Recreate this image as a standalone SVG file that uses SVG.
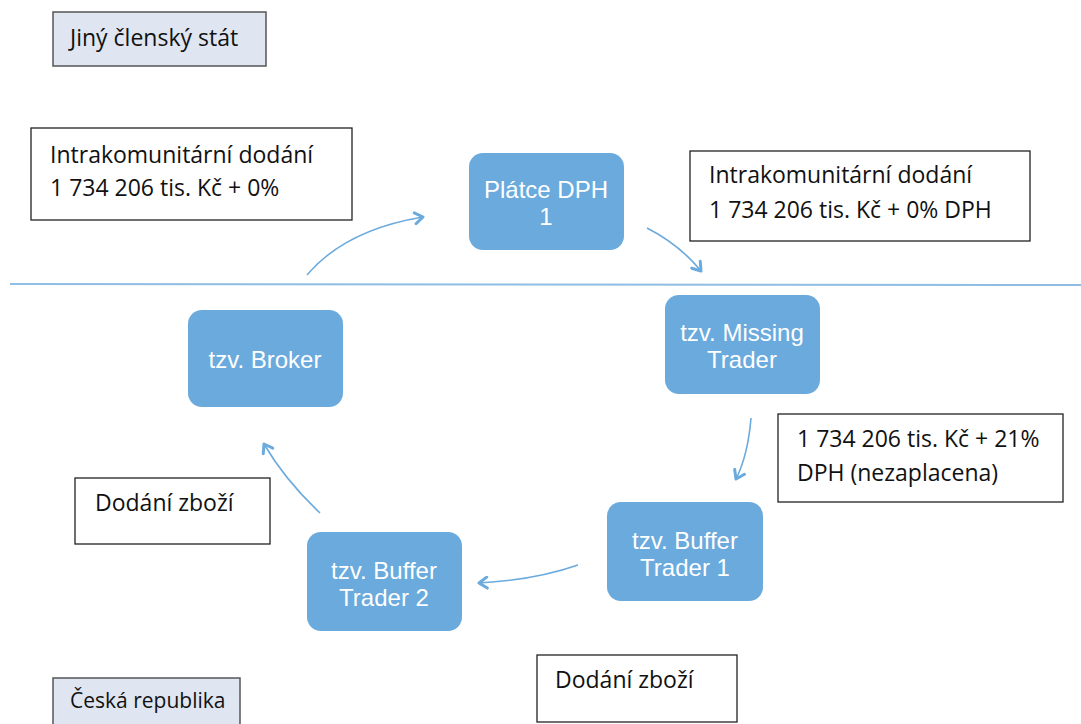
<svg xmlns="http://www.w3.org/2000/svg" width="1081" height="724" viewBox="0 0 1081 724">
<defs>
<marker id="ah" viewBox="0 0 14 14" refX="10" refY="7" markerWidth="14" markerHeight="14" markerUnits="userSpaceOnUse" orient="auto">
<path d="M2,1.5 L10,7 L2,12.5" fill="none" stroke="#6aaadd" stroke-width="3" stroke-linecap="round" stroke-linejoin="round"/>
</marker>
</defs>
<style>
.lbl{fill:#fff;stroke:#222;stroke-width:1.3}
.reg{fill:#dfe6f2;stroke:#555;stroke-width:1.5}
.node{fill:#6aaadd}
.t{font-family:"Open Sans","Liberation Sans",sans-serif;font-size:23px;fill:#111}
.nt{font-family:"Liberation Sans",Arial,sans-serif;font-size:24px;fill:#fff;text-anchor:middle}
.c{fill:none;stroke:#6aaadd;stroke-width:1.6;marker-end:url(#ah)}
</style>
<rect width="1081" height="724" fill="#fff"/>
<line x1="10" y1="284" x2="1081" y2="285" stroke="#8fbde4" stroke-width="2"/>
<g id="region-foreign"><rect class="reg" x="53" y="12" width="213" height="54"/><text class="t" x="70" y="46">Jiný členský stát</text></g>
<g id="region-cz"><rect class="reg" x="53" y="678" width="187" height="50"/><text class="t" x="70" y="708" style="font-size:21px">Česká republika</text></g>
<g id="label-1"><rect class="lbl" x="31" y="128" width="321" height="92"/><text class="t" x="50" y="163">Intrakomunitární dodání</text><text class="t" x="50" y="196">1 734 206 tis. Kč + 0%</text></g>
<g id="label-2"><rect class="lbl" x="690" y="151" width="340" height="90"/><text class="t" x="709" y="183">Intrakomunitární dodání</text><text class="t" x="709" y="218">1 734 206 tis. Kč + 0% DPH</text></g>
<g id="label-3"><rect class="lbl" x="778" y="414" width="285" height="88"/><text class="t" x="797" y="447">1 734 206 tis. Kč + 21%</text><text class="t" x="797" y="481">DPH (nezaplacena)</text></g>
<g id="label-4"><rect class="lbl" x="75" y="478" width="195" height="66"/><text class="t" x="95" y="511">Dodání zboží</text></g>
<g id="label-5"><rect class="lbl" x="537" y="655" width="200" height="67"/><text class="t" x="555" y="688">Dodání zboží</text></g>
<g id="platce"><rect class="node" x="469" y="153" width="155" height="97" rx="14"/><text class="nt" x="546" y="198">Plátce DPH</text><text class="nt" x="546" y="225">1</text></g>
<g id="missing"><rect class="node" x="665" y="295" width="155" height="99" rx="14"/><text class="nt" x="742" y="341">tzv. Missing</text><text class="nt" x="742" y="368">Trader</text></g>
<g id="broker"><rect class="node" x="188" y="310" width="155" height="97" rx="14"/><text class="nt" x="265" y="368">tzv. Broker</text></g>
<g id="buffer1"><rect class="node" x="607" y="502" width="156" height="99" rx="14"/><text class="nt" x="685" y="549">tzv. Buffer</text><text class="nt" x="685" y="576">Trader 1</text></g>
<g id="buffer2"><rect class="node" x="307" y="532" width="155" height="99" rx="14"/><text class="nt" x="384" y="579">tzv. Buffer</text><text class="nt" x="384" y="606">Trader 2</text></g>
<g id="connectors">
<path class="c" d="M307,275 Q345,230 423,217"/>
<path class="c" d="M647,228 Q680,245 701,271"/>
<path class="c" d="M751,418 Q748,455 736,479"/>
<path class="c" d="M578,565 Q535,580 479,583"/>
<path class="c" d="M320,513 Q285,480 264,444"/>
</g>
</svg>
